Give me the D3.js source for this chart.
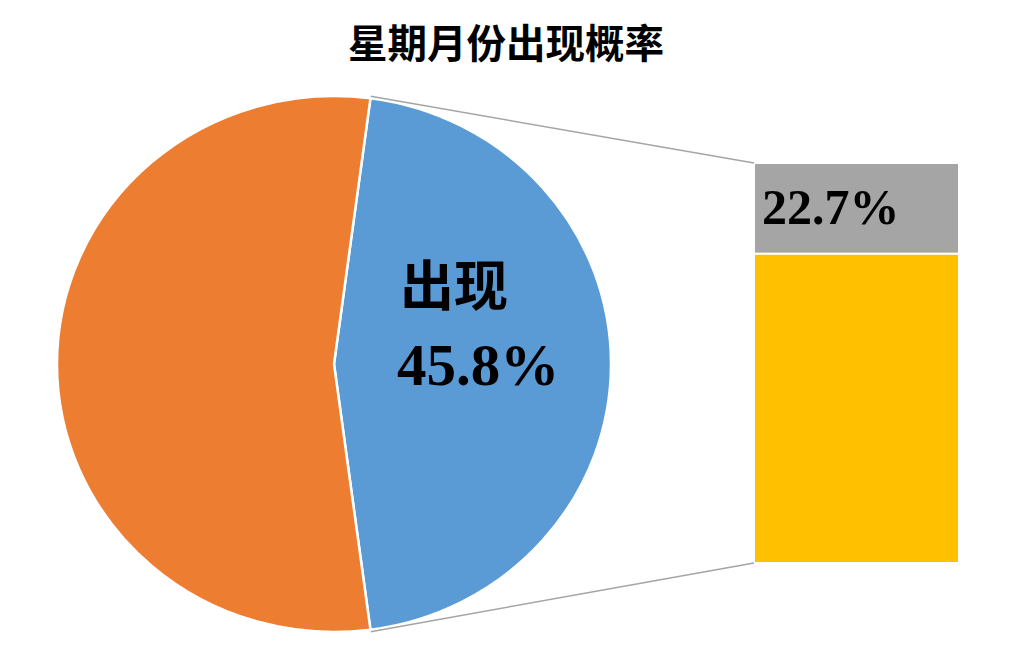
<!DOCTYPE html>
<meta charset="utf-8">
<head>
<style>
 body { margin: 0; background: #fff; }
 .title {
   font-family: "Noto Sans CJK SC", sans-serif;
   font-weight: bold;
   font-size: 39.5px;
 }
 .slice-label-cn {
   font-family: "Noto Sans CJK SC", serif;
   font-weight: bold;
   font-size: 54px;
 }
 .num {
   font-family: "Liberation Serif", "Times New Roman", serif;
   font-weight: bold;
 }
</style>
</head>
<body>
<svg width="1016" height="655"></svg>
<script src="https://d3js.org/d3.v7.min.js" charset="utf-8"></script>
<script>
  // pie: share of weekdays that appear in the month
  var pieNames = ['出现', '未出现'];
  var pieValues = [45.8, 54.2];
  var pieColors = ['#5B9BD5', '#ED7D31'];

  // bar: breakdown of the "出现" slice
  var barNames = ['A', 'B'];
  var barValues = [22.7, 77.3];
  var barColors = ['#A5A5A5', '#FFC000'];

  var svg = d3.select('svg');
  var cx = 334, cy = 364, rx = 277, ry = 268;
  var bar = { x0: 754, x1: 959, y0: 163, y1: 563 };

  svg.append('text')
      .attr('class', 'title')
      .attr('x', 506).attr('y', 40)
      .attr('text-anchor', 'middle')
      .attr('dominant-baseline', 'central')
      .text('星期月份出现概率');

  // pie, with the first slice centred on the right side
  var total = d3.sum(pieValues);
  var firstSpan = pieValues[0] / total * 2 * Math.PI;
  var start = Math.PI / 2 - firstSpan / 2;
  var pie = d3.pie().sort(null)
      .startAngle(start).endAngle(start + 2 * Math.PI);
  var arcs = pie(pieValues);
  var arc = d3.arc().innerRadius(0).outerRadius(rx);

  var g = svg.append('g')
      .attr('transform', 'translate(' + cx + ',' + cy + ') scale(1,' + (ry / rx) + ')');
  g.selectAll('path')
    .data(arcs)
    .enter().append('path')
      .attr('d', arc)
      .attr('fill', function(d, i) { return pieColors[i]; })
      .attr('stroke', '#fff')
      .attr('stroke-width', 2.5)
      .attr('vector-effect', 'non-scaling-stroke');

  // bar stack
  var y = d3.scaleLinear().domain([0, d3.sum(barValues)]).range([bar.y0, bar.y1]);
  var cum = d3.cumsum(barValues);
  svg.selectAll('.bar')
    .data(barValues)
    .enter().append('rect')
      .attr('class', 'bar')
      .attr('x', bar.x0)
      .attr('width', bar.x1 - bar.x0)
      .attr('y', function(d, i) { return y(cum[i] - d); })
      .attr('height', function(d) { return y(d) - y(0); })
      .attr('fill', function(d, i) { return barColors[i]; })
      .attr('stroke', '#fff')
      .attr('stroke-width', 2);

  // connector lines from the slice edges to the bar
  function edge(a) {
    return [cx + (rx + 2) * Math.sin(a), cy - (ry + 2) * Math.cos(a)];
  }
  var pTop = edge(arcs[0].startAngle), pBot = edge(arcs[0].endAngle);
  svg.append('line')
      .attr('x1', pTop[0]).attr('y1', pTop[1])
      .attr('x2', bar.x0).attr('y2', bar.y0)
      .attr('stroke', '#A5A5A5').attr('stroke-width', 1.5);
  svg.append('line')
      .attr('x1', pBot[0]).attr('y1', pBot[1])
      .attr('x2', bar.x0).attr('y2', bar.y1)
      .attr('stroke', '#A5A5A5').attr('stroke-width', 1.5);

  // labels
  svg.append('text')
      .attr('class', 'slice-label-cn')
      .attr('x', 400).attr('y', 282)
      .attr('dominant-baseline', 'central')
      .text(pieNames[0]);
  svg.append('text')
      .attr('class', 'num')
      .attr('x', 397).attr('y', 385)
      .style('font-size', '59px')
      .text(pieValues[0].toFixed(1) + '%');
  svg.append('text')
      .attr('class', 'num')
      .attr('x', 762).attr('y', 224)
      .style('font-size', '50px')
      .text(barValues[0].toFixed(1) + '%');
</script>
</body>
</html>
